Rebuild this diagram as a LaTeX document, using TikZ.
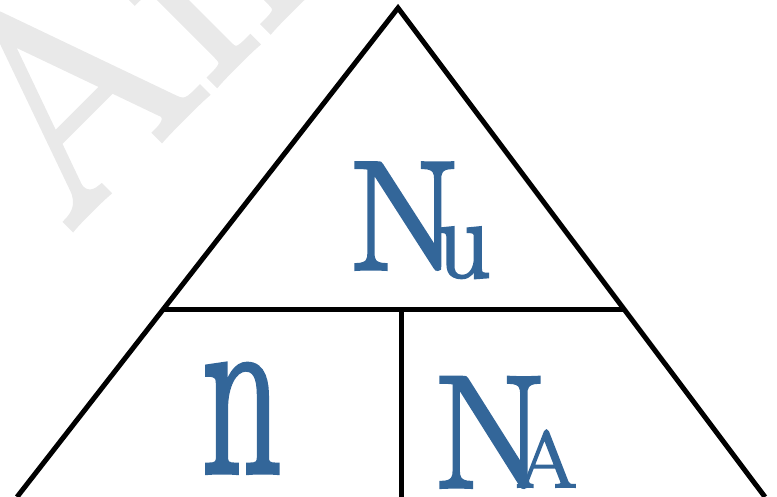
\documentclass[tikz,border=0pt]{standalone}
\usepackage{graphicx}
\usepackage{fontspec}
\setmainfont{Latin Modern Roman}[FakeBold=2.5]
\definecolor{txtblue}{RGB}{51,102,153}
\definecolor{wmgray}{RGB}{233,233,233}
\tikzset{
  edge/.style={line width=5pt, draw=black, line cap=butt, line join=miter},
  label/.style={inner sep=0pt, outer sep=0pt, text=txtblue, anchor=base west},
}
\newcommand{\fsz}[1]{\fontsize{#1}{#1}\selectfont}
\begin{document}
\begin{tikzpicture}[x=1pt,y=-1pt]
\useasboundingbox (0,0) rectangle (777,497);
\clip (0,0) rectangle (777,497);
\node[inner sep=0pt, anchor=base west, rotate=45, text=wmgray, font=\fsz{290}] (wm) at (68,232) {An};
\coordinate (top) at (398,8);
\coordinate (bl) at (17,497);
\coordinate (br) at (765,497);
\coordinate (ml) at (163,310);
\coordinate (mr) at (625,310);
\coordinate (vt) at (401,310);
\coordinate (vb) at (401,497);
\draw[edge] (bl) -- (top) -- (br);
\draw[edge] (ml) -- (mr);
\draw[edge] (vt) -- (vb);
\node[label] (nuN) at (348,269) {\scalebox{1.05}[1]{\fsz{155}N}};
\node[label] (nuu) at (437,277) {\scalebox{0.93}[1]{\fsz{113}u}};
\node[label] (n) at (202,472) {\scalebox{0.64}[1]{\fsz{245}n}};
\node[label] (naN) at (433,487) {\scalebox{1.03}[1]{\fsz{160}N}};
\node[label] (naA) at (516,487) {\scalebox{1.1}[1]{\fsz{80}A}};
\end{tikzpicture}
\end{document}
